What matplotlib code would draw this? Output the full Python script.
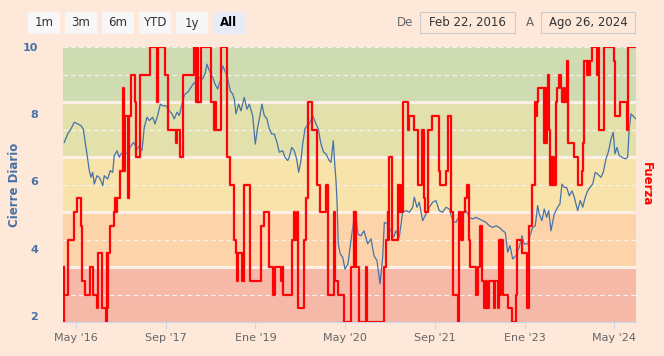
import matplotlib
matplotlib.use("Agg")
import matplotlib.pyplot as plt
from matplotlib.patches import Rectangle
from matplotlib.transforms import blended_transform_factory
import numpy as np
import pandas as pd

# Cierre diario: fecha (años decimales) y valor
cierre_anio = [2016.161, 2016.212, 2016.261, 2016.310, 2016.360, 2016.409, 2016.443, 2016.469, 2016.498, 2016.533,
               2016.558, 2016.583, 2016.607, 2016.647, 2016.681, 2016.706, 2016.732, 2016.755, 2016.806, 2016.844,
               2016.880, 2016.904, 2016.944, 2016.978, 2017.003, 2017.052, 2017.103, 2017.152, 2017.192, 2017.241,
               2017.275, 2017.315, 2017.349, 2017.389, 2017.424, 2017.474, 2017.508, 2017.548, 2017.587, 2017.623,
               2017.672, 2017.721, 2017.761, 2017.795, 2017.835, 2017.869, 2017.920, 2017.954, 2017.994, 2018.043,
               2018.092, 2018.132, 2018.166, 2018.217, 2018.251, 2018.280, 2018.315, 2018.365, 2018.399, 2018.439,
               2018.478, 2018.514, 2018.548, 2018.588, 2018.626, 2018.662, 2018.686, 2018.711, 2018.751, 2018.785,
               2018.834, 2018.874, 2018.909, 2018.959, 2018.998, 2019.033, 2019.072, 2019.097, 2019.131, 2019.171,
               2019.206, 2019.241, 2019.280, 2019.320, 2019.354, 2019.405, 2019.439, 2019.479, 2019.503, 2019.538,
               2019.577, 2019.612, 2019.642, 2019.676, 2019.702, 2019.736, 2019.766, 2019.800, 2019.850, 2019.899,
               2019.933, 2019.973, 2020.013, 2020.048, 2020.096, 2020.122, 2020.156, 2020.181, 2020.196, 2020.211,
               2020.230, 2020.260, 2020.296, 2020.330, 2020.374, 2020.419, 2020.459, 2020.493, 2020.523, 2020.567,
               2020.612, 2020.667, 2020.716, 2020.761, 2020.805, 2020.850, 2020.890, 2020.914, 2020.964, 2021.013,
               2021.053, 2021.087, 2021.136, 2021.186, 2021.236, 2021.285, 2021.335, 2021.359, 2021.399, 2021.433,
               2021.483, 2021.533, 2021.582, 2021.632, 2021.681, 2021.730, 2021.780, 2021.830, 2021.879, 2021.929,
               2021.978, 2022.027, 2022.078, 2022.127, 2022.176, 2022.226, 2022.275, 2022.324, 2022.374, 2022.424,
               2022.473, 2022.523, 2022.572, 2022.621, 2022.672, 2022.710, 2022.746, 2022.780, 2022.820, 2022.869,
               2022.918, 2022.958, 2022.992, 2023.043, 2023.077, 2023.117, 2023.156, 2023.191, 2023.215, 2023.255,
               2023.289, 2023.325, 2023.355, 2023.389, 2023.438, 2023.488, 2023.522, 2023.552, 2023.586, 2023.622,
               2023.661, 2023.701, 2023.735, 2023.785, 2023.824, 2023.860, 2023.898, 2023.934, 2023.968, 2024.008,
               2024.047, 2024.082, 2024.131, 2024.165, 2024.206, 2024.245, 2024.280, 2024.314, 2024.339, 2024.369,
               2024.403, 2024.443, 2024.492, 2024.527, 2024.551, 2024.577, 2024.626, 2024.651]
cierre_valor = [7.16, 7.41, 7.56, 7.76, 7.71, 7.66, 7.56, 7.21, 6.82, 6.32,
                6.12, 6.27, 5.92, 6.17, 6.12, 6.02, 5.87, 6.17, 6.07, 6.32,
                6.27, 6.77, 6.91, 6.72, 6.82, 6.87, 6.82, 7.06, 7.16, 6.96,
                7.06, 6.91, 7.61, 7.91, 7.81, 7.91, 7.71, 7.96, 8.30, 8.25,
                8.25, 8.10, 8.01, 7.86, 8.06, 7.96, 8.40, 8.60, 8.65, 8.80,
                8.95, 8.80, 9.10, 9.05, 9.20, 9.49, 9.29, 9.10, 8.90, 8.75,
                9.00, 9.44, 9.29, 9.05, 8.70, 8.60, 8.45, 8.01, 8.30, 8.10,
                8.50, 8.15, 8.30, 7.96, 7.11, 7.61, 8.01, 8.30, 7.96, 7.86,
                7.56, 7.41, 7.41, 7.16, 6.87, 6.91, 6.72, 6.62, 6.72, 7.01,
                6.91, 6.67, 6.27, 6.62, 7.11, 7.56, 7.66, 7.71, 7.96, 7.71,
                7.56, 7.11, 6.87, 6.82, 6.62, 6.57, 7.21, 6.42, 6.04, 5.43,
                4.14, 3.84, 3.74, 3.39, 3.54, 4.24, 4.83, 4.98, 4.43, 4.38,
                4.53, 4.14, 4.29, 3.79, 3.64, 2.95, 3.74, 4.78, 4.73, 4.53,
                4.34, 4.53, 4.34, 5.08, 5.13, 5.08, 5.23, 5.53, 5.23, 5.38,
                4.83, 5.03, 5.23, 5.38, 5.43, 5.13, 5.08, 5.23, 5.18, 4.83,
                4.78, 4.98, 5.03, 5.13, 4.93, 4.88, 4.93, 4.88, 4.83, 4.78,
                4.68, 4.63, 4.68, 4.63, 4.53, 4.48, 3.89, 4.09, 3.69, 3.79,
                4.04, 4.38, 4.14, 4.14, 4.38, 4.63, 4.68, 5.28, 5.03, 4.83,
                5.18, 4.93, 5.13, 4.53, 5.03, 5.23, 5.33, 5.92, 5.82, 5.82,
                5.57, 5.72, 5.53, 5.13, 5.43, 5.23, 5.53, 5.72, 5.82, 5.92,
                6.27, 6.22, 6.12, 6.27, 6.67, 6.91, 7.26, 7.46, 6.82, 7.01,
                6.77, 6.72, 6.67, 6.72, 7.56, 8.01, 7.91, 7.86]

# Fuerza: inicio de cada escalón (años decimales) y nivel (0-20)
fuerza_anio = [2016.154, 2016.157, 2016.163, 2016.212, 2016.310, 2016.350, 2016.409, 2016.424, 2016.473, 2016.547,
               2016.588, 2016.647, 2016.666, 2016.717, 2016.781, 2016.791, 2016.800, 2016.810, 2016.844, 2016.895,
               2016.914, 2016.929, 2016.944, 2016.996, 2017.038, 2017.045, 2017.063, 2017.103, 2017.127, 2017.152,
               2017.211, 2017.226, 2017.286, 2017.438, 2017.538, 2017.560, 2017.657, 2017.701, 2017.820, 2017.830,
               2017.880, 2017.920, 2018.092, 2018.117, 2018.142, 2018.154, 2018.191, 2018.199, 2018.347, 2018.389,
               2018.407, 2018.421, 2018.488, 2018.577, 2018.629, 2018.686, 2018.711, 2018.726, 2018.741, 2018.796,
               2018.811, 2018.825, 2018.834, 2018.923, 2019.082, 2019.131, 2019.206, 2019.256, 2019.290, 2019.379,
               2019.405, 2019.413, 2019.538, 2019.577, 2019.592, 2019.612, 2019.627, 2019.725, 2019.751, 2019.785,
               2019.835, 2019.914, 2019.963, 2020.048, 2020.073, 2020.162, 2020.181, 2020.230, 2020.310, 2020.419,
               2020.459, 2020.471, 2020.478, 2020.493, 2020.542, 2020.642, 2020.656, 2020.904, 2020.939, 2020.964,
               2020.973, 2020.988, 2021.023, 2021.112, 2021.127, 2021.142, 2021.157, 2021.187, 2021.270, 2021.285,
               2021.359, 2021.418, 2021.469, 2021.498, 2021.518, 2021.567, 2021.617, 2021.730, 2021.745, 2021.830,
               2021.864, 2021.904, 2021.929, 2022.003, 2022.027, 2022.052, 2022.078, 2022.112, 2022.141, 2022.176,
               2022.193, 2022.275, 2022.300, 2022.339, 2022.360, 2022.398, 2022.424, 2022.446, 2022.473, 2022.547,
               2022.557, 2022.597, 2022.621, 2022.636, 2022.654, 2022.672, 2022.746, 2022.810, 2022.869, 2022.881,
               2022.958, 2023.028, 2023.067, 2023.107, 2023.151, 2023.166, 2023.181, 2023.200, 2023.289, 2023.303,
               2023.315, 2023.329, 2023.349, 2023.364, 2023.378, 2023.396, 2023.411, 2023.426, 2023.441, 2023.463,
               2023.478, 2023.512, 2023.537, 2023.560, 2023.582, 2023.604, 2023.626, 2023.649, 2023.738, 2023.797,
               2023.854, 2023.868, 2023.879, 2023.923, 2023.938, 2023.953, 2023.965, 2023.993, 2024.072, 2024.087,
               2024.109, 2024.171, 2024.329, 2024.344, 2024.413, 2024.517, 2024.540, 2024.651]
fuerza_nivel = [0, 4, 2, 6, 8, 9, 7, 3, 2, 4,
                2, 1, 5, 1, 0, 5, 1, 5, 7, 8,
                9, 8, 9, 11, 17, 11, 15, 9, 15, 18,
                16, 12, 18, 20, 16, 20, 18, 14, 13, 14,
                12, 18, 20, 16, 20, 16, 18, 20, 16, 14,
                16, 14, 20, 12, 10, 6, 5, 3, 5, 3,
                5, 3, 10, 3, 7, 8, 4, 2, 4, 3,
                4, 2, 6, 8, 6, 8, 1, 6, 9, 16,
                14, 10, 8, 10, 2, 8, 3, 2, 0, 4,
                8, 4, 8, 4, 0, 4, 0, 4, 6, 8,
                6, 12, 6, 10, 8, 10, 8, 16, 14, 15,
                14, 10, 14, 9, 8, 14, 15, 11, 10, 11,
                15, 8, 2, 0, 8, 6, 8, 9, 10, 6,
                4, 2, 4, 7, 3, 1, 3, 1, 3, 1,
                3, 1, 6, 2, 6, 2, 1, 0, 2, 6,
                5, 1, 7, 10, 16, 15, 16, 17, 13, 17,
                13, 17, 18, 14, 10, 12, 10, 12, 10, 16,
                17, 18, 17, 16, 17, 16, 19, 13, 12, 10,
                11, 13, 19, 18, 19, 18, 19, 20, 18, 20,
                14, 20, 19, 15, 16, 14, 20, 20]

# bandas de fuerza (desde, hasta, color)
bandas_desde = [0, 4, 8, 12, 16]
bandas_hasta = [4, 8, 12, 16, 20]
bandas_color = ['#f6b9a8', '#fdd4a9', '#f8e3ab', '#e2e0ab', '#cfdcb2']

ticks_fecha = ['2016-05-01', '2017-09-01', '2019-01-01', '2020-05-01', '2021-09-01', '2023-01-01', '2024-05-01']
ticks_texto = ["May '16", "Sep '17", "Ene '19", "May '20", "Sep '21", "Ene '23", "May '24"]
botones = ['1m', '3m', '6m', 'YTD', '1y', 'All']

W, H = 664, 356
fondo = '#fde8d9'
azul = '#4572a7'


def anio_a_fecha(a):
    a = np.asarray(a, dtype=float)
    return pd.Timestamp('2016-01-01') + pd.to_timedelta((a - 2016) * 365.25, unit='D')


def caja(fig, x0, y0, x1, y1, color, borde='none'):
    # coordenadas en pixeles, y desde arriba
    r = Rectangle((x0 / W, 1 - y1 / H), (x1 - x0) / W, (y1 - y0) / H, transform=fig.transFigure,
                  facecolor=color, edgecolor=borde, linewidth=0.8)
    fig.add_artist(r)


fig = plt.figure(figsize=(W / 100, H / 100), dpi=100, facecolor=fondo)
ax = fig.add_axes([63 / W, 34 / H, 573 / W, 275 / H])
ax.set_facecolor(fondo)
ax2 = ax.twinx()
ax2.set_ylim(0, 20)
ax.set_ylim(1.815, 10)

trans = blended_transform_factory(ax.transAxes, ax2.transData)
for lo, hi, c in zip(bandas_desde, bandas_hasta, bandas_color):
    ax.add_patch(Rectangle((0, lo), 1, hi - lo, transform=trans, facecolor=c, edgecolor='none', zorder=0))
for lv in [4, 8, 12, 16]:
    ax.plot([0, 1], [lv, lv], transform=trans, color='#fcefe6', lw=2.2, zorder=0.5)
for lv in [2, 6, 10, 14, 18, 20]:
    ax.plot([0, 1], [lv, lv], transform=trans, color='#f4f4f4', lw=0.8, ls=(0, (4, 3)), zorder=0.6)

ax.plot(anio_a_fecha(cierre_anio), cierre_valor, color=azul, lw=0.9, zorder=2)

fx = anio_a_fecha(fuerza_anio)
ax2.plot(fx, fuerza_nivel, drawstyle='steps-post', color='#ff8080', lw=2.6, alpha=0.4, zorder=3)
ax2.plot(fx, fuerza_nivel, drawstyle='steps-post', color='#ff0000', lw=1.4, zorder=4)

ax.set_xlim(pd.Timestamp('2016-02-22'), pd.Timestamp('2024-08-26'))
ax.set_xticks(pd.to_datetime(ticks_fecha))
ax.set_xticklabels(ticks_texto)
ax.tick_params(axis='x', length=5, color='#ccd6eb', labelcolor='#666666', labelsize=8, pad=3)
ax.set_yticks([2, 4, 6, 8, 10])
ax.set_yticklabels(['2', '4', '6', '8', '10'], fontweight='bold')
ax.tick_params(axis='y', length=0, labelcolor=azul, labelsize=8, pad=18)
ax.set_ylabel('Cierre Diario', color=azul, fontweight='bold', fontsize=8.5, labelpad=1.5)
ax2.set_yticks([])
ax2.set_ylabel('Fuerza', color='#ff0000', fontweight='bold', fontsize=8.5, rotation=270, labelpad=12)

for a in (ax, ax2):
    for s in ['top', 'left', 'right']:
        a.spines[s].set_visible(False)
    a.spines['bottom'].set_color('#ccd6eb')

# selector de rango
for i, b in enumerate(botones):
    x0 = 28 + i * 37
    activo = b == 'All'
    caja(fig, x0, 12, x0 + 32, 34, '#e6ebf5' if activo else '#f7f7f7')
    fig.text((x0 + 16) / W, 1 - 23 / H, b, ha='center', va='center', fontsize=8.5,
             color='#000000' if activo else '#333333', fontweight='bold' if activo else 'normal')

fig.text(405 / W, 1 - 23 / H, 'De', ha='center', va='center', fontsize=8.5, color='#666666')
caja(fig, 420, 12, 515, 33, fondo, '#cccccc')
fig.text(467.5 / W, 1 - 22.5 / H, 'Feb 22, 2016', ha='center', va='center', fontsize=8.5, color='#333333')
fig.text(530 / W, 1 - 23 / H, 'A', ha='center', va='center', fontsize=8.5, color='#666666')
caja(fig, 541, 12, 635, 33, fondo, '#cccccc')
fig.text(588 / W, 1 - 22.5 / H, 'Ago 26, 2024', ha='center', va='center', fontsize=8.5, color='#333333')

fig.savefig('out.png', dpi=100, facecolor=fondo)
